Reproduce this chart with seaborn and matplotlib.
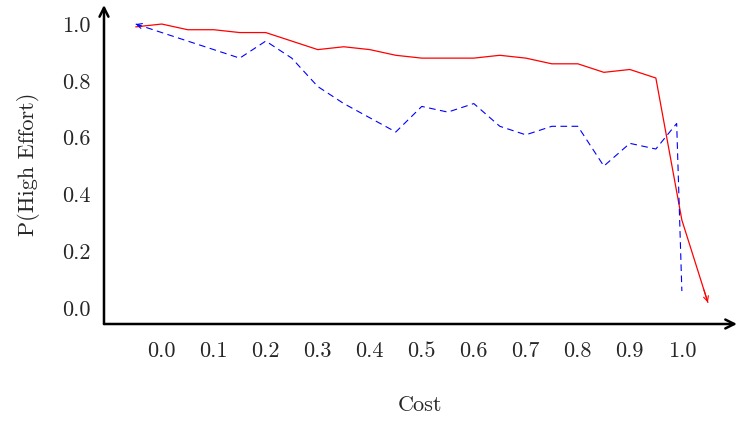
import matplotlib
matplotlib.use("Agg")
import matplotlib.pyplot as plt
import seaborn as sns

# Veriler
cost_red = [-0.05, 0.0, 0.05, 0.1, 0.15, 0.2, 0.25, 0.3, 0.35, 0.4, 0.45, 0.5,
            0.55, 0.6, 0.65, 0.7, 0.75, 0.8, 0.85, 0.9, 0.95, 1.0, 1.05]
p_red = [0.99, 1.00, 0.98, 0.98, 0.97, 0.97, 0.94, 0.91, 0.92, 0.91, 0.89, 0.88,
         0.88, 0.88, 0.89, 0.88, 0.86, 0.86, 0.83, 0.84, 0.81, 0.31, 0.02]

cost_blue = [-0.05, 0.0, 0.05, 0.1, 0.15, 0.2, 0.25, 0.3, 0.35, 0.4, 0.45, 0.5,
             0.55, 0.6, 0.65, 0.7, 0.75, 0.8, 0.85, 0.9, 0.95, 0.99, 1.0]
p_blue = [1.00, 0.97, 0.94, 0.91, 0.88, 0.94, 0.88, 0.78, 0.72, 0.67, 0.62, 0.71,
          0.69, 0.72, 0.64, 0.61, 0.64, 0.64, 0.50, 0.58, 0.56, 0.65, 0.06]

x_ticks = [0.0, 0.1, 0.2, 0.3, 0.4, 0.5, 0.6, 0.7, 0.8, 0.9, 1.0]
y_ticks = [0.0, 0.2, 0.4, 0.6, 0.8, 1.0]

sns.set_style("white")
plt.rcParams['font.family'] = ['cmr10', 'DejaVu Serif']
plt.rcParams['axes.formatter.use_mathtext'] = True
plt.rcParams['font.size'] = 16

fig = plt.figure(figsize=(7.37, 4.21), dpi=100)
ax = fig.add_axes([0.1411, 0.2304, 0.8589, 0.7577])

sns.lineplot(x=cost_red, y=p_red, color='red', lw=0.9, ax=ax, sort=False)
sns.lineplot(x=cost_blue, y=p_blue, color='blue', lw=0.8, linestyle=(0, (6, 4)), ax=ax, sort=False)


def end_arrow(x_from, y_from, x_to, y_to, color):
    # cizginin ucuna kucuk ok basi
    xs = x_to + 0.15 * (x_from - x_to)
    ys = y_to + 0.15 * (y_from - y_to)
    ax.annotate('', xy=(x_to, y_to), xytext=(xs, ys),
                arrowprops=dict(arrowstyle='->', color=color, lw=0.8, mutation_scale=9,
                                shrinkA=0, shrinkB=0))


end_arrow(cost_red[-2], p_red[-2], cost_red[-1], p_red[-1], 'red')
end_arrow(cost_blue[1], p_blue[1], cost_blue[0], p_blue[0], 'blue')

ax.set_xlim(-0.111, 1.106)
ax.set_ylim(-0.056, 1.067)
ax.set_xticks(x_ticks)
ax.set_yticks(y_ticks)
ax.set_xticklabels([f"{v:.1f}" for v in x_ticks])
ax.set_yticklabels([f"{v:.1f}" for v in y_ticks])
ax.tick_params(axis='both', direction='inout', length=9, width=0.8, color='black', labelsize=16)
ax.tick_params(axis='x', pad=8)
ax.tick_params(axis='y', pad=5)

for s in ax.spines.values():
    s.set_visible(False)

# eksen oklari
axis_arrow = dict(arrowstyle='->', color='black', lw=1.8, mutation_scale=16, shrinkA=0, shrinkB=0)
ax.annotate('', xy=(1.0, 0), xytext=(0, 0), xycoords='axes fraction', arrowprops=axis_arrow,
            annotation_clip=False)
ax.annotate('', xy=(0, 1.0), xytext=(0, 0), xycoords='axes fraction', arrowprops=axis_arrow,
            annotation_clip=False)

ax.set_xlabel('Cost', fontsize=16, labelpad=25)
ax.set_ylabel('P(High Effort)', fontsize=16, labelpad=16)

plt.savefig('out.png', dpi=100)
plt.close()
